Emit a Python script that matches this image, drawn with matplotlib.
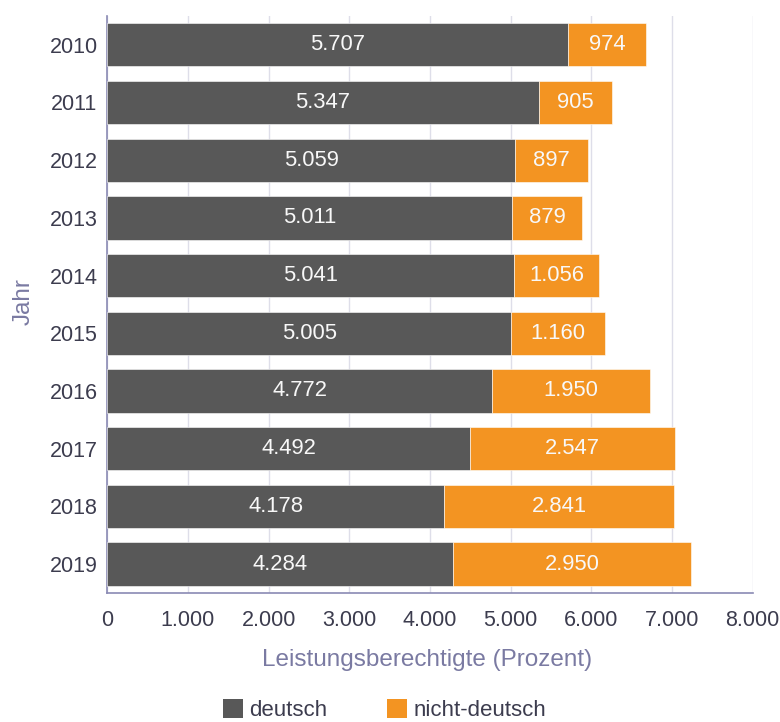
import matplotlib
matplotlib.use("Agg")
import matplotlib.pyplot as plt
from matplotlib.patches import Patch
from matplotlib.ticker import FuncFormatter, MultipleLocator

plt.rcParams['font.family'] = ['Liberation Sans', 'DejaVu Sans']

years = ["2010", "2011", "2012", "2013", "2014", "2015", "2016", "2017", "2018", "2019"]
deutsch = [5707, 5347, 5059, 5011, 5041, 5005, 4772, 4492, 4178, 4284]
nicht_deutsch = [974, 905, 897, 879, 1056, 1160, 1950, 2547, 2841, 2950]

series_names = ["deutsch", "nicht-deutsch"]
colors = ["#585858", "#f39422"]
axis_color = "#8a8ab4"
grid_color = "#dedee9"
tick_color = "#3c3c4e"
title_color = "#7a7aa2"


def de_format(v):
    return f"{int(round(v)):,}".replace(",", ".")


fig = plt.figure(figsize=(7.8, 7.22), dpi=100)
ax = fig.add_axes([0.1375, 0.1787, 0.8275, 0.7993])

pos = list(range(len(years)))
ax.barh(pos, deutsch, height=0.75, color=colors[0], edgecolor="white", linewidth=0.4, zorder=3)
ax.barh(pos, nicht_deutsch, left=deutsch, height=0.75, color=colors[1], edgecolor="white", linewidth=0.4, zorder=3)

for vals, lefts in ((deutsch, [0] * len(deutsch)), (nicht_deutsch, deutsch)):
    for p, v, l in zip(pos, vals, lefts):
        ax.text(l + v / 2, p, de_format(v), ha="center", va="center", color="#f8f8f8", fontsize=15.8, zorder=4)

ax.set_xlim(0, 8000)
ax.set_ylim(len(years) - 0.5, -0.5)
ax.xaxis.set_major_locator(MultipleLocator(1000))
ax.xaxis.set_major_formatter(FuncFormatter(lambda v, _: de_format(v)))
ax.set_yticks(pos)
ax.set_yticklabels(years)

ax.grid(axis="x", color=grid_color, linewidth=1.0, zorder=0)
ax.set_axisbelow(True)
for side in ("top", "right"):
    ax.spines[side].set_visible(False)
ax.spines["left"].set_color(axis_color)
ax.spines["bottom"].set_color(axis_color)
ax.spines["left"].set_linewidth(1.2)
ax.spines["bottom"].set_linewidth(1.2)

ax.tick_params(axis="x", length=0, pad=12, labelsize=15.5, labelcolor=tick_color)
ax.tick_params(axis="y", length=0, pad=7, labelsize=15.5, labelcolor=tick_color)

ax.set_xlabel("Leistungsberechtigte (Prozent)", fontsize=17.5, color=title_color, va="center")
ax.xaxis.set_label_coords(0.496, -0.116)
ax.set_ylabel("Jahr", fontsize=17.5, color=title_color, va="center")
ax.yaxis.set_label_coords(-0.13, 0.505)

handles = [Patch(facecolor=c, edgecolor="none") for c in colors]
fig.legend(handles, series_names, loc="center", bbox_to_anchor=(0.493, 0.0166), ncol=2, frameon=False,
           fontsize=16, handlelength=0.9, handleheight=0.9, handletextpad=0.27, columnspacing=2.7,
           labelcolor=tick_color, borderaxespad=0, borderpad=0)

fig.savefig("out.png", dpi=100)
